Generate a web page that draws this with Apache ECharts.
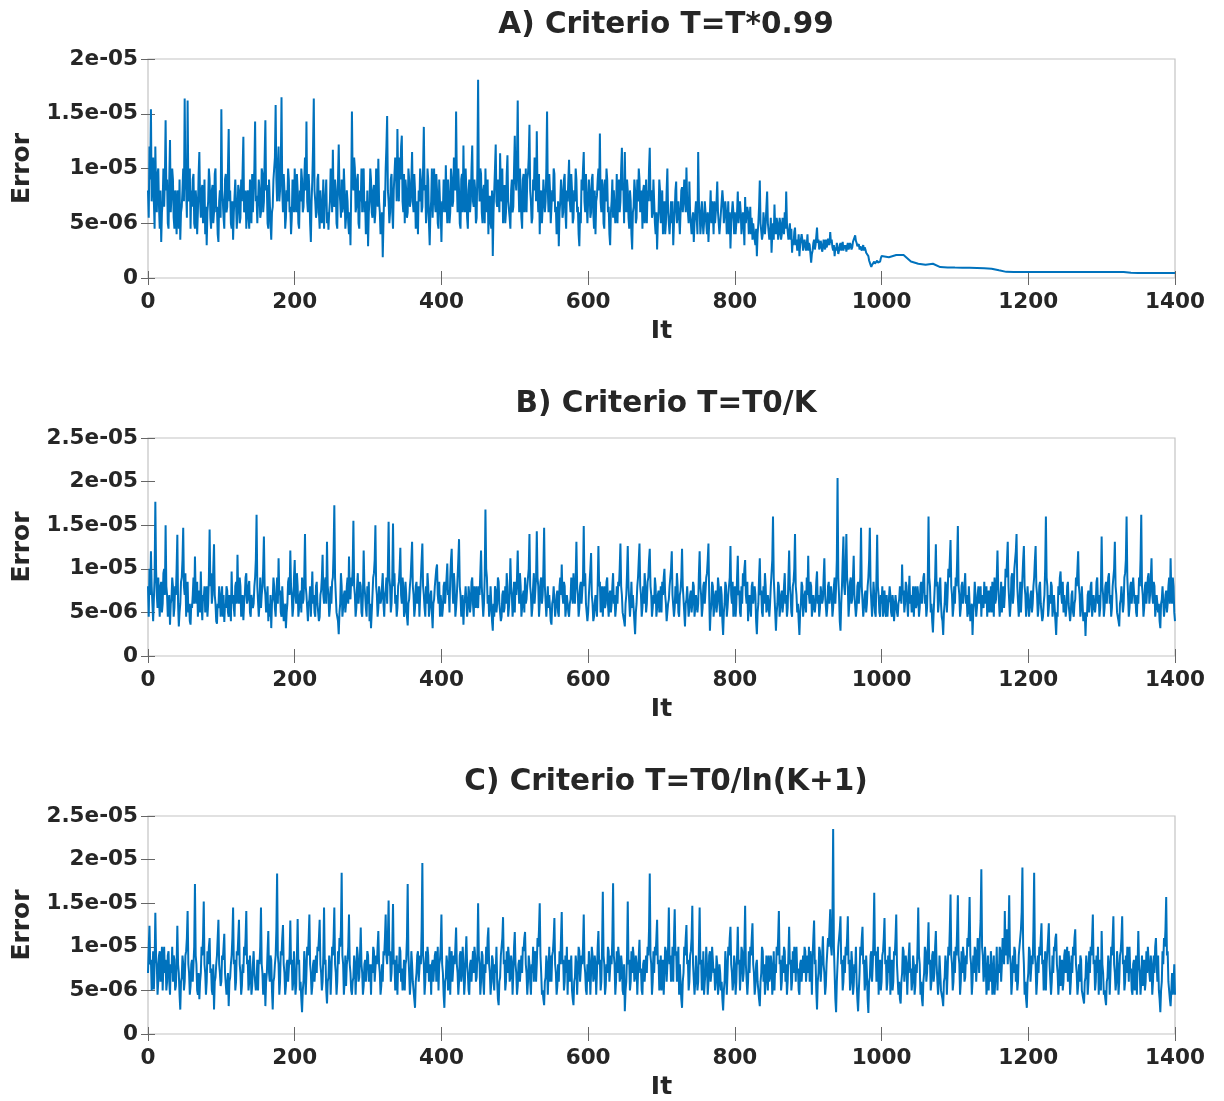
<!DOCTYPE html>
<html>
<head>
<meta charset="utf-8">
<script src="https://cdn.jsdelivr.net/npm/echarts@6/dist/echarts.min.js"></script>
<style>
html,body{margin:0;padding:0;background:#fff;}
#chart{width:1224px;height:1101px;}
</style>
</head>
<body>
<div id="chart"></div>
<script>
// Error values are in units of 1e-6, one per iteration. Each line = 50 iterations.
const STEP = 1;
// A) noisy part, It = 0..999
const errA = [
  8,5.5,12,9,15.4,7,9.5,11,7,4.5,12,8,6,9.5,10,6.5,4.5,8,3.3,6,7,10,6.5,9,14.4,8,9,5,4.5,9,12.6,6,7.5,10,9,5.5,4.5,8,6,4,8,7,4.5,9,3.5,6,6.5,8,10,7,
  16.4,9,8,5.5,16.2,8,7,10,4.5,8,6.5,9,9.5,5,4.5,8,7,4,6,9.5,11.5,7,5.5,8,8.5,5,6,9,4,6.5,3.0,6,7,10,9,5.5,4.5,8,8.5,5,6,9.5,10,6,6.5,4,3.3,7,8,5.5,
  15.4,8,7,5.5,4.5,9,9.5,6,6.5,10,13.6,7,8,5,4.5,7,3.5,6,7.5,9,9,4.5,6,8.5,8,5,5.5,9,7,10,12.9,6,6.5,8,4.5,7,8,5.5,4.5,9,7,5,9.5,6,6,10,14.3,7,7.5,5,
  5,9,8,5.5,6,10,9.5,6,7,11,14.4,8,8.5,5,4.5,9,7,5,3.5,6,6.5,9,9,11,15.8,9,7,10,12,7,8,10,16.5,8,6,9.5,8,4.5,5.5,8,7,10,9,6,6.5,4,5.5,9,8,6,
  10,7,6,9.5,8,5,4.5,8,7,10,9,6,6.5,9,11,8,14.3,7,6,9.5,8,5,3.3,7,9,12,16.4,8,7,5.5,6,9,9.5,6,4.5,8,8,5,6.5,9,4.5,7,7.5,9,5,6,4.4,6,7,10,
  9,6,11.7,7,6.5,9,8,5,4.5,9,12.2,8,7,5.5,9,6,6.5,10,8,4.5,5.5,8,7,5,4,6,3.0,8,15.2,9,8,11,10,6,6.5,9,9.5,5,4.5,8,7,10,6,9.5,10,6,7,4,5,8,
  2.9,6,7,10,9,6,5.5,8,8.5,5,6,10,9,6.5,10.9,7,6,4,4.5,6,1.9,5,8,6.5,10,12,14.8,8,7,5,6,9,9.5,6,4.5,8,8,11,10,7,13.6,9,7,11,9,12,13,7,6,9.5,
  5,9,8,5.5,6,10,9,6.5,7,9,11.5,7,6,9.5,8,4.5,5.5,7,4,8,7,10,9,6,6.5,10,13.8,8,8.5,5,6,10,9,5,3.0,6,7,10,5.5,8,10,7,6,9.5,8,5,4.5,9,7,6,
  3.3,7,6,9,8.5,6,10.3,7,5,9,7.5,5,6,10,9,6.5,7,11,10,8,15.2,9,6,10,8,5,4.5,9,9.5,6,12.1,7,6,10,8,5.5,4.5,8,9,6,7,10,12.1,7,6.5,9,8,5,5.5,10,
  18.1,9,7,10,9.5,6,5,8,8.5,5,10,7,6,9,4,7,7.5,5,4.5,8,2.0,6,8,10,12.2,7,6.5,9,9,6,11.4,8,7,10,5,8,8.5,5,6,9.5,11.2,7,7,5.5,4.5,8,9,6,6.5,10,
  13,9,8,11,16.2,9,6,10,8,5.5,4.5,9,9.5,6,7,10,6,9,9.5,11,14,8,7,5,5.5,9,8,11,10,7,13.4,8,6,9.5,4,7,8,5,6.5,9,9,6,7,10,15.2,8,6,9.5,8,5,
  5,8,7,10,9.5,6,6.5,4,4.5,7,2.9,6,7,9,8,5.5,6,9,9.5,6,4.5,8,7,9,10.8,7,6,9.5,8,5,5.5,8,7,10,9,6,6.5,4,2.9,6,5,9,8,10,11.5,7,6,9.5,7,5,
  5,9,8,5.5,6,9,9.5,6,4.5,8,4,7,7.5,9,10,8,13.2,7,6,9,8.5,5,4.5,9,7,10,9,6,6.5,4,3.0,6,7,9,5.5,8,8,5,6,9.5,5,8,9,6,7,10,11.9,8,8.5,5,
  11.5,7,6,9,8,5.5,4.5,8,7,4,2.6,6,6.5,9,8,5,5.5,9,7,10,9,6,6,8,4.5,8,8.5,5,6,9,5,8,7,10,11.9,7,8,5.5,6,9,7,5,4,6,2.6,5,6,9,8,5,
  6,8,4,6,7,4,5,8,10,6,6,4,4,7,5,7,3.0,5,6,8,8.8,5,5,7,7,4,6,8,8.3,6,7,9,9,6,10.1,7,7,5,8.8,6,6,4,4,6,3.3,5,5,7,7,4,
  11.5,7,6,4,5,7,7,4,5,7,7,5,4,6,3.3,5,6,8,5,7,6,4,7,5,5,7,8.8,6,6,4,4,6,6,8,7,5,5,7,6,4,5,7,4,6,2.7,5,5,7,6,4,
  6,4,4,6,7.9,5,5,7,6,4,4,6,5,3,7.4,5,5,6.5,6,4,5,6.5,4,5.5,3.5,5,5,3.5,3,4.5,2.0,4,5,6.5,8.9,5,5,3.5,4,6,6,4,5,6.5,7.9,5,5,3.5,4,5.5,
  2.3,4,5,3.5,6.7,4.5,4,5.5,5,3.5,4,5.5,5,3.5,4,5.5,5,4,6,4.5,7.9,5,5,3.5,4,5,3.5,4.5,2.3,3.5,3,4.2,4.6,3,3.5,2.5,3,4,2.0,3,3,4,3.5,2.5,2.5,3.5,3.5,2.5,3,4,
  2.5,3.2,3,2.2,1.4,2.2,2.5,3.2,3.5,2.6,3,3.8,4.6,3.2,3.5,2.6,2.8,3.4,3,2.4,2.7,3.5,3.2,2.6,3.5,2.8,3,3.6,3.5,3,4.2,3.2,3.5,2.8,2.5,3,2.0,2.8,2.5,3.2,2.7,2.2,2.5,3,3.2,2.5,2.8,3.3,2.5,3,
  2.7,3,2.4,2.9,3.2,2.6,2.8,3.2,3,2.6,2.8,3.3,3.5,3.7,3.9,3.4,3.2,2.9,2.8,3.1,2.6,2.9,2.8,2.5,2.8,3,2.5,2.8,2.6,2.3,2.4,2.2,2.0,1.6,1.4,1.2,1.0,1.2,1.3,1.1,1.5,1.3,1.2,1.4,1.6,1.4,1.3,1.5,1.5,1.8
];
// A) converged tail, It = 1000..1400 (every 10 iterations)
const TAIL_START = 1000, TAIL_STEP = 10;
const errATail = [
  2.0,1.9,2.1,2.1,1.5,1.3,1.2,1.3,1.0,0.97,0.95,0.94,0.93,0.92,0.9,0.85,0.7,0.56,
  0.55,0.55,0.55,0.55,0.55,0.55,0.55,0.55,0.55,0.55,0.55,0.55,0.55,0.55,0.55,0.55,
  0.47,0.45,0.45,0.45,0.45,0.45,0.45
];
// B) It = 0..1400
const errB = [
  8,4.5,10,7,12,8,6,4,3.9,9,17.7,10,7,5.5,9,6.5,4.5,8,8.5,5,6,9.5,10,7,15,8,7,4.5,5.5,7,3.6,6,6.5,9,8,4.5,5.5,8,7,10,13.9,6,3.4,5,6,8.5,9,11,14.7,8,
  7,9.5,4.5,8,8.5,5,6,4,3.6,6,5.5,7,9,6,11.4,7,6,8.5,4.5,7,7.5,5,9.7,6,4.1,7,6.5,8,5,7,8,4.5,6,9,14.5,8,9.5,6,7,10,12.8,7,6,4,3.7,6,5.5,8,7,4.5,
  6,8,4.5,7,3.9,6,5.5,8,7.5,5,4.5,7,6,4,9.7,6,7,5.5,4.5,8,8.5,6,11.6,7,6,9,8,4.5,5.5,7,4.1,6,7,9,9.5,6,6.5,8,8.6,5,4.5,7,7,5.5,6,8,9,11,16.2,8,
  8,4.5,6,9,5.5,7,8,10,13.7,8,7,5,6.5,8,4,6,4.5,7,3.2,6,6.5,9,8,5.5,4.5,7,9,6,11.2,7,7.5,5,4.5,8,6,4,4.5,6,3.2,5,6,8.5,9,7,12.1,8,7,4.5,5.5,9,
  11,7,6,9.5,8,4.5,5.5,7,7.5,5,9,6,6.5,9,14,8,7,5.5,4,6,6.5,8,4.5,7,9.7,6,7,5,4.5,8,8.5,6,6,4,4.5,7,7.5,9,11.6,7,6,8.5,9,6,13.1,8,7,4.5,5.5,8,
  6,8.5,9,12,17.3,9,7,5,4.5,4,2.5,5,6,9.5,8,4.5,5.5,7,7.5,5,6,8,9,6,11.4,7,6.5,9,8,10,15.5,8,7,4.5,5.5,8,9.5,6,6,8.5,8,5,4.5,7,12.1,8,7,5.5,4.5,8,
  6,8.5,4,6,3.2,5,7,9,9.5,11,15,8,7,4.5,5.5,8,8,6,6.5,8,9.5,6,4.5,7,7.5,9,6,10,15.4,9,8,5,6,9,15.2,8,9.5,6,7,4.5,5.5,8,8.5,10,12.4,7,6,9,8,4.5,
  5,8.5,7,4.5,3.5,6,6.5,8,9,11,13.1,8,7,4.5,5.5,8,8.5,6,6,8,4.5,7,9,11,12.9,8,7,5.5,4.5,8,6,9.5,8,4.5,5.5,7,7.5,5,3.2,6,6.5,8,8,10,10.5,7,6,8.5,4.5,7,
  7,4.5,5.5,8,8.5,6,6,9,10.6,7,7.5,5,9,11,12.3,8,6,9.5,8,4.5,5.5,7,9,11,13.4,8,7,4.5,5.5,7,3.6,6,6.5,8,8,4.5,5.5,8,7,5,6,8.5,9,6,4.5,8,7,5.5,8,6,
  5.5,8,7,9.5,12.1,8,8,4.5,6,9,16.8,10,9,6,7,4.5,5.5,8,6,4,2.9,6,4.5,8,7.5,5,6,9,8.5,6,6,4,4.5,7,7.5,5,5.5,8,6,9.5,8,4.5,5.5,7,11.2,8,7,4.5,6,8.5,
  5,8.5,7,9,12.1,8,6,9.5,8,4.5,5.5,7,7.5,5,9,6,6.5,8,8,10,14,8,7,4.5,5.5,8,9.5,6,6,9,14.3,9,8,4.5,6,8.5,9,6,7,10,14.7,8,8,4.5,6,8,5.5,7,7,4,
  3.6,6,6.5,8,8,4.5,5.5,7,7.5,5,4.5,8,9,7,10.5,7,6,8.5,8,4.5,5.5,7,7,5,4.5,6,6.5,9,8,6,9.5,7,6,9,13.1,8,7,4.5,5.5,8,8.5,6,6,9,14.9,8,9.5,6,6,4,
  5,7,8.5,10,11.8,7,6,4,4.5,6,7,5.5,4.5,8,12.6,8,8.5,5,6,8,4.5,7,8,5.5,6,8.5,9,6,4.5,7,7.5,5,6,8,9.5,6,7,4.5,5.5,8,6,8.5,8,10,12.9,8,7,5,4.5,4,
  3.4,6,7,9.5,12.6,8,8,4.5,6,8.5,5.5,7,7,4,2.5,5,6,8,9,11,12.9,8,7,4.5,5.5,8,6,9.5,8,5,6,8.5,9,11,12.3,8,7,4.5,5.5,7,6,9,8,4.5,5.5,7,7.5,5,6,8,
  5,8.5,7,9,10,7,6,4,3.8,6,6.5,8,8,10,12,7,7,4.5,5.5,8,6,9.5,8,5,4.5,7,7.5,9,12.3,8,8,5,3.4,6,6.5,8,8,4.5,5.5,7,7.5,5,6,8.5,8,4.5,5.5,7,7,5,
  6,9.5,12,8,7,4.5,5.5,8,8.5,6,6,9,9.5,11,12.9,7,2.9,5,6,8.5,8,4.5,5.5,7,7.5,5,6,9,8,6,4.5,8,7,4,2.4,5,6,8.5,8,4.5,5.5,7,7,9,12.6,7,6,8.5,4.5,7,
  8,4.5,6,9,11.5,7,7.5,5,4.5,8,6,9.5,8,10,11,7,6,8.5,4,6,7,5.5,4.5,8,8.5,6,6,8,7,4,2.5,5,6,9,11.2,7,7.5,5,4.5,8,6,9.5,8,5,5.5,7,7,4.5,6,8,
  8,11,16,9,7,5,2.9,5,6,8.5,8,4.5,5.5,7,7.5,5,6,8,9.5,6,7,4.5,5.5,9,12.1,8,7,5,4.5,8,8.5,10,14,8,7,5,6,4,2.4,5,6,8.5,8,4.5,5.5,7,7.5,5,9,7,
  11.5,7,6,8.5,8,4.5,5.5,7,7,5,6,8.5,9.7,6,7,4.5,5.5,8,8,6,6.5,9,11.2,7,7,4.5,5.5,8,8.5,6,6,8,7,4.5,5.5,8,9,6,8,11,20.4,9,7,4,2.9,6,8,11,13.7,8,
  7,10,14,9,8,4.5,6,8.5,9,6,6.5,9,11.5,7,7,4.5,5.5,8,8.5,6,6,9,14.7,8,8,4.5,5.5,7,7.5,5,6,8,9,11,14.7,8,8,4.5,6,8.5,7,5,4.5,9,13.9,8,7,5,4.5,7,
  6,8,4.5,7,7.5,5,4.5,7,4.5,6,6.5,8,7,5,4.5,7,6,4,5.5,7,7,5,4.5,6,6.5,8,8,6,10.5,7,7.5,5,6,8.5,8,6,4.5,7,9.2,6,7,5,6,8,4.5,7,8,5.5,6,8,
  7,4.5,5.5,8,8.5,6,6,9,9.5,6,7,4.5,5.5,9,16,9,8,5,6,4,2.7,5,7,9,12.8,8,8.5,5,6,8,9,6,4.5,4,2.4,5,6,8.5,8,5,7,10,9,11,13.3,8,7,4.5,5.5,8,
  6,9,8,11,14.9,8,7,4.5,5.5,8,8.5,6,6,8,9.5,6,7,4.5,5,8,6,4,4.5,6,2.4,5,6,8.5,7,4.5,5.5,7,8,6,6.5,8,4.5,7,7,5.5,8.5,6,6,8,4.5,7,7.5,5,6,8,
  5,8.5,7,4.5,9,6,6.5,9,12.1,8,8,4.5,6,8.5,5,7,8,5.5,7,10,9,11,13.1,8,8,4.5,6,9,9.5,6,7,10,10,12,14,8,8,4.5,6,8.5,5,7,9,11,12.6,8,7,4.5,6,8,
  8,4.5,5.5,7,7.5,5,6,8,9,11,12.6,8,7,4.5,5.5,8,8.5,6,6,4,4.5,6,7,10,16,9,8,4.5,5.5,7,6,8.5,8,4.5,5.5,7,7,4,2.4,5,4.5,8,7,9,9.7,7,6,8.5,5,7,
  7,4.5,5.5,8,8.5,6,6,4,5,7,7.5,5,4.5,6,6.5,9,8,10,12,8,7,4.5,5.5,8,6,4,4,5,2.3,5,4.5,7,7.5,5,6,8,8.5,4.5,5.5,7,7,5,6,8.5,9,6,7,4.5,5.5,8,
  13.7,8,7,4.5,5.5,8,8.5,6,6,9,9.5,6,7,4.5,5.5,8,8,10,13.1,8,7,5,4.5,4,3.4,6,6.5,8,8,5,6,9,9.5,11,16,9,7,4.5,5.5,8,8.5,6,6,9,9,6,7,5,4.5,7,
  6,9,8,11,16.2,8,7,4.5,5.5,8,8.5,6,6,9,9.5,6,7,9,11.2,7,6,8.5,8,4.5,5.5,7,7,5,6,4,3.2,6,6.5,8,8,4.5,5.5,7,7.5,5,6,8,9,6,11.2,7,6,9,8,5,
  4
];
// C) It = 0..1400
const errC = [
  7,10,12.4,8,8.5,5,6,9.5,5.1,8,13.9,9,8,4.5,6,9,9.5,6,7,10,5,8,10,7,8.5,5,6,9,9.5,6,4.5,8,7,10,6,9,8.5,5,5.5,8,12.4,8,7,4.5,2.8,6,6.5,9,8,5,
  6,9,9.5,11,14.1,8,7,4.5,5.5,8,8.5,6,6,10,17.2,9,8,5,4.5,7,4,6,7,10,9,11,15.2,8,7,4.5,6,9.5,8,10,11,7,7.5,5,4.5,8,2.8,6,6.5,8,9,11,13.1,8,7,5.5,
  6,9,8.5,10,11.5,7,7,4.5,5.5,7,3.2,6,6.5,8,9,11,14.5,8,8.5,5,6,9.5,9,11,13.1,8,7,4.5,5.5,8,7,10,9,11,14.1,8,8.5,5,6,9,7,4.5,5.5,8,9.5,7,7,5,6,8.5,
  5,8.5,8,10,14.5,8,7,4.5,5.5,7,3.2,6,7,9.5,11.8,7,6,9,8.5,5,2.8,6,6.5,8,9,12,18.4,9,8,4.5,6,9.5,9,11,12.5,8,7,4.5,5.5,8,8.5,6,6,9,13,8,8.5,5,6,9.5,
  7,4.5,5.5,9,13.2,8,8.5,5,6,4,2.5,5,6,9.5,8,4.5,7,10,9,11,13.7,8,7,4.5,5.5,8,8.5,6,6,9,7,10,9.5,11,13.1,8,7,5,6,9,14.5,8,8.5,5,3.5,6,6.5,9,8,4.5,
  7,10,9,11,14.5,8,7,4.5,6,9.5,8,11,10,12,18.5,9,8,4.5,6,9,5.5,8,8.5,10,13.7,8,7,5,4.5,6,6.5,9,8,4.5,7,10,9,6,6.5,9,12.2,8,7,4.5,5.5,8,8.5,6,6,9.5,
  9,6,6.5,8,4.5,8,7,10,9.5,6,6,9,8,10,11.8,8,7,4.5,5.5,8,6,9.5,9,11,13.7,9,8,11,15.3,9,9.5,6,7,10,14.9,8,8.5,5,6,9,4.5,8,7,10,9.5,6,7.5,5,6,8.5,
  5,8,8.5,11,17.2,9,7,4.5,6,9.5,8,6,5,4,3,6,7,9,9.5,6,6,9,8,12,19.6,9,8,4.5,6,9.5,7,10,9,6,6.5,8,4.5,8,8.5,6,6,9,9.5,6,7,10,5,8,8.5,10,
  13.7,8,7,4.5,3,6,6.5,9,8,5,7,10,4.5,8,9.5,6,6,9,8,10,12.2,8,7,4.5,6,9,9.5,6,7,10,8,4.5,6,9,11.2,8,7,5,4.5,8,8.5,6,6,9.5,7,10,9,6,6.5,9,
  15,9,8,4.5,6,9.5,9,6,4.5,8,7,10,8,11,12.2,8,7,4.5,6,9,8.5,6,5,8,7,10,6,4,3.3,6,6.5,9,9,11,13.4,8,8.5,5,6,9.5,7,10,9,6,6.5,9,8,4.5,7,10,
  11.7,8,7,4.5,5.5,8,8.5,6,6,9,7,10,9.5,11,11.7,8,7,4.5,6,9,8,6,4.5,8,7,10,6,9,9.5,6,8,11,10,12,15,9,7,4.5,5,4,3.3,6,6.5,9,8,4.5,7,10,6,9,
  6,9,9.5,11,13.3,8,7,4.5,5.5,8,6,9.5,8,11,14,8,8.5,5,6,9,7,10,4.5,8,8.5,6,6,9,5,4,3.3,6,6.5,9,8,4.5,7,10,9.5,6,6,9,8,10,13.7,8,7,5,4.5,8,
  6,9.5,8,4.5,7,10,9,6,6.5,9,8,4.5,7,10,11.8,8,8.5,5,6,10,16.3,9,8,4.5,5.5,8,7,10,9.5,6,6,9,8,11,17.3,9,8,4.5,6,9.5,7,10,9,6,6.5,9,8,5,4.5,8,
  2.6,5,6,9,15.2,8,8.5,5,6,9.5,7,10,9,6,6.5,9,8,4.5,7,9,10.8,7,7.5,5,4.5,8,8.5,6,6,9,7,10,9,12,18.4,9,8,4.5,6,9.5,7,10,9,11,13.1,8,8.5,5,6,9,
  5,8,8.5,4.5,7,10,9.5,6,6,10,14.5,8,9,6,7,10,6,11,14.3,9,9.5,6,7,10,4.5,8,6,4,3,6,7,10,9,11,12.5,8,8.5,5,6,9,9.5,11,14.7,8,8,4.5,6,9,7,5,
  6,10,14.5,8,8.5,5,6,9.5,4.5,6,7,10,8,4.5,6,9,9.5,6,7,10,10,7,7.5,5,6,9,8,4.5,5.5,8,7,5,6,4,2.7,5,6,9.5,8,4.5,7,10,9,11,12.3,8,7,5,6,9,
  8,4.5,6,9,12.3,8,8.5,5,7,10,9.5,6,7,10,14.7,8,8,4.5,6,9.5,7,10,9,11,12.7,8,7,4.5,5.5,8,8.5,6,6,4,3.2,6,7,10,9.5,6,8,4.5,6,9,7.8,5,9,6,6.5,9,
  8,4.5,6,9.5,5,8,7,10,9,11,14.1,8,8.5,5,6,9,7,10,9.5,6,8,4.5,6,9,12.3,8,8.5,5,6,9.5,7,10,9,6,10,7,7.5,5,4.5,8,8.5,6,6,9,7,10,9.5,6,6,9,
  7,10,6,9.5,8,4.5,9,11,13,8,8.5,5,2.8,6,7,10,9.5,6,6,9,11.2,8,7,4.5,5.5,8,8,11,10,12,14.3,10,9,13,23.5,10,7,4,2.5,6,8,10,10,12,13.5,8,8.5,5,6,9,
  7,10,9,11,13.5,8,8.5,5,6,9.5,8,4.5,5.5,8,7,10,6,4,2.6,5,7,10,9,11,12.3,8,8.5,5,6,9,7,4,2.4,6,6.5,9,9.5,6,8,11,16.2,9,9.5,6,7,10,4.5,8,8.5,5,
  6,9,9.5,11,13.3,8,8.5,5,6,9,7,10,4.5,8,8.5,5,6,9.5,9,11,13.7,8,8,4.5,6,4,3.5,6,7,10,9.5,6,6,9,8,4.5,7,9,10.5,7,7.5,5,6,9,8,4.5,5.5,8,7,10,
  14.5,9,8,4.5,6,4,3.2,6,7,10,9.5,6,7,10,12.8,8,8.5,5,6,9,9.5,6,7,10,11.8,8,8,4.5,6,9,7,5,4.5,4,3.2,6,6.5,9,8,4.5,7,10,9,12,16,9,8,5,6,9.5,
  7,10,9,12,15.9,9,8,4.5,6,9.5,7,10,9,6,6.5,9,8,11,10,12,15.7,9,8,4.5,6,9,7,10,9.5,6,8,11,10,7,11,13,18.9,10,9,6,7,10,8,4.5,6,9,5,8,6,9.5,
  8,4.5,6,9,4.5,6,7,10,5,8,7,10,9.5,6,8,11,11,8,14.1,9,9,12,8,11,15.9,9,8,4.5,6,9,7,10,9.5,6,8,5,6,9,9,11,12,14,19.1,10,8,4.5,6,4,3,6,
  7,10,9.5,6,6,9,8,12,18.5,9,8,4.5,6,9,7,10,9,11,12.7,8,8.5,5,6,9.5,5,8,8,11,12.7,8,8,4.5,6,9,7,10,9.5,11,11.5,8,7,4.5,6,9,5.5,8,8.5,5,6,9,
  9.7,7,7,10,6,9.5,8,4.5,6,9,7,10,9,11,12,8,7,4.5,5.5,8,6,9,8.5,5,4.5,4,3.5,6,6.5,9,8,4.5,6,9.5,7,10,9,11,13.7,8,8.5,5,6,9,7,10,4.5,8,8.5,5,
  11.8,8,7,4.5,5,4,3.3,6,6.5,9,8,4.5,7,10,9,11,13.5,8,7,5,6,9.5,8,4.5,6,9,9.5,11,13.5,8,8.5,5,6,9,7,10,9.5,6,10,7,7.5,5,4.5,8,8.5,5,6,9,4.5,8,
  11.8,8,7,4.5,6,9,5.5,8,8.5,5,6,9.5,7,10,10.2,7,6,9,8,4.5,6,9,7,10,11,8,6,9,5,4,2.5,5,6,9.5,8,11,10,12,15.7,9,9.5,6,6,4,3.2,5,7,4.5,5.5,8,
  4.5
];
const titles = ['A) Criterio T=T*0.99', 'B) Criterio T=T0/K', 'C) Criterio T=T0/ln(K+1)'];
const xTickLabels = ['0', '200', '400', '600', '800', '1000', '1200', '1400'];
const yTickLabelsA = ['0', '5e-06', '1e-05', '1.5e-05', '2e-05'];
const yTickLabelsBC = ['0', '5e-06', '1e-05', '1.5e-05', '2e-05', '2.5e-05'];
const xLabel = 'It';
const yLabel = 'Error';

const FONT = 'DejaVu Sans';
const TXT = '#262626';
const LINE = '#0072BD';
const X_INT = 200, Y_INT = 5;

function pairs(arr, start, step) { return arr.map((v, i) => [start + i * step, v]); }

const panels = [
  {data: pairs(errA, 0, STEP).concat(pairs(errATail, TAIL_START, TAIL_STEP)), yLabels: yTickLabelsA, top: 59, height: 219},
  {data: pairs(errB, 0, STEP), yLabels: yTickLabelsBC, top: 438, height: 218},
  {data: pairs(errC, 0, STEP), yLabels: yTickLabelsBC, top: 816, height: 219}
];

const grid = [], xAxis = [], yAxis = [], series = [], title = [];
panels.forEach((p, k) => {
  grid.push({left: 148, top: p.top, width: 1027, height: p.height, show: true,
    borderColor: '#c4c4c4', borderWidth: 1.2, containLabel: false});
  const xMax = (xTickLabels.length - 1) * X_INT;
  const yMax = (p.yLabels.length - 1) * Y_INT;
  const tick = {show: true, inside: true, length: 7, lineStyle: {color: '#666', width: 1}};
  const xCommon = {type: 'value', gridIndex: k, min: 0, max: xMax, interval: X_INT,
    splitLine: {show: false}, axisLine: {show: false}, axisTick: tick};
  xAxis.push(Object.assign({}, xCommon, {position: 'bottom',
    axisLabel: {show: true, color: TXT, fontFamily: FONT, fontWeight: 'bold', fontSize: 21.5, margin: 13,
      formatter: v => xTickLabels[Math.round(v / X_INT)]},
    name: xLabel, nameLocation: 'middle', nameGap: 41,
    nameTextStyle: {color: TXT, fontFamily: FONT, fontWeight: 'bold', fontSize: 25}}));
  xAxis.push(Object.assign({}, xCommon, {position: 'top', axisLabel: {show: false}}));
  const yCommon = {type: 'value', gridIndex: k, min: 0, max: yMax, interval: Y_INT,
    splitLine: {show: false}, axisLine: {show: false}, axisTick: tick};
  yAxis.push(Object.assign({}, yCommon, {position: 'left',
    axisLabel: {show: true, color: TXT, fontFamily: FONT, fontWeight: 'bold', fontSize: 21.5, margin: 10,
      formatter: v => p.yLabels[Math.round(v / Y_INT)]},
    name: yLabel, nameLocation: 'middle', nameGap: 113, nameRotate: 90,
    nameTextStyle: {color: TXT, fontFamily: FONT, fontWeight: 'bold', fontSize: 25}}));
  yAxis.push(Object.assign({}, yCommon, {position: 'right', axisLabel: {show: false}}));
  series.push({type: 'line', xAxisIndex: 2 * k, yAxisIndex: 2 * k, showSymbol: false, symbol: 'none',
    data: p.data, lineStyle: {color: LINE, width: 2}, itemStyle: {color: LINE}});
  title.push({text: titles[k], left: 661, textAlign: 'center', top: p.top - 54,
    textStyle: {color: TXT, fontFamily: FONT, fontWeight: 'bold', fontSize: 29.5}});
});

const chart = echarts.init(document.getElementById('chart'), null, {renderer: 'canvas'});
chart.setOption({animation: false, backgroundColor: '#ffffff', title, grid, xAxis, yAxis, series});
</script>
</body>
</html>
